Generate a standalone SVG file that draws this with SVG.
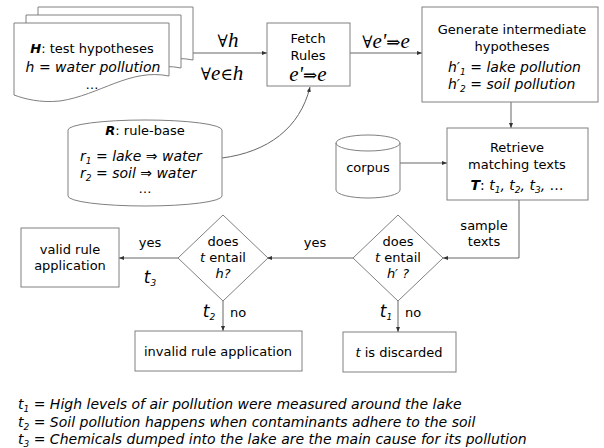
<svg xmlns="http://www.w3.org/2000/svg" xmlns:xlink="http://www.w3.org/1999/xlink" width="604" height="448" viewBox="0 0 604 448">
<style>
.t{font-family:"DejaVu Sans",Verdana,sans-serif;font-size:13px;fill:#000}
.i{font-style:italic}
.L{font-size:14px}
.b{font-weight:bold}
.m{font-family:"Liberation Serif","Times New Roman",serif;font-size:21px;font-style:italic;fill:#000}
.y{font-family:"DejaVu Serif",serif;font-style:normal;font-size:17px}
.s{font-size:9px}
.box{fill:#fff;stroke:#808080;stroke-width:1}
.c{fill:none;stroke:#666;stroke-width:1;marker-end:url(#a)}
</style>
<defs>
<marker id="a" markerWidth="5" markerHeight="4" refX="5" refY="2" orient="auto" markerUnits="userSpaceOnUse">
<path d="M0,0 L5,2 L0,4 z" fill="#333"/>
</marker>
<path id="doc" class="box" d="M0,0 H155 V53 C116,45 86,72 46,78 C26,80 11,76 0,72 Z"/>
</defs>
<g id="connectors">
<path class="c" d="M193,53 H267"/>
<path class="c" d="M350,53 H422"/>
<path class="c" d="M511,102 V128"/>
<path class="c" d="M400,163 H447"/>
<path class="c" d="M519,200 V258 H443"/>
<path class="c" d="M353,258 H267"/>
<path class="c" d="M178,258 H119"/>
<path class="c" d="M398,301 V332"/>
<path class="c" d="M223,301 V331"/>
<path class="c" d="M222,158 C268,152 300,128 310,87"/>
<text class="m" x="228" y="47" text-anchor="middle"><tspan class="y">∀</tspan>h</text>
<text class="m" x="222" y="80" text-anchor="middle"><tspan class="y">∀</tspan>e<tspan class="y">∈</tspan>h</text>
<text class="m" x="386" y="48" text-anchor="middle"><tspan class="y">∀</tspan>e'<tspan class="y">⇒</tspan>e</text>
<text class="t" x="484" y="230" text-anchor="middle">sample</text>
<text class="t" x="484" y="246" text-anchor="middle">texts</text>
<text class="t" x="315" y="247" text-anchor="middle">yes</text>
<text class="t" x="150" y="247" text-anchor="middle">yes</text>
<text class="t i" x="150" y="283" text-anchor="middle" style="font-size:17px">t<tspan class="s" dy="3">3</tspan></text>
<text class="t i" x="209" y="317" text-anchor="middle" style="font-size:17px">t<tspan class="s" dy="3">2</tspan></text>
<text class="t" x="238" y="317" text-anchor="middle">no</text>
<text class="t i" x="386" y="317" text-anchor="middle" style="font-size:17px">t<tspan class="s" dy="3">1</tspan></text>
<text class="t" x="413" y="317" text-anchor="middle">no</text>
</g>
<g id="hypotheses">
<use xlink:href="#doc" x="38" y="7"/>
<use xlink:href="#doc" x="26" y="15"/>
<use xlink:href="#doc" x="14" y="23"/>
<text class="t" x="92" y="53" text-anchor="middle"><tspan class="b i">H</tspan>: test hypotheses</text>
<text class="t i L" x="93" y="72" text-anchor="middle">h = water pollution</text>
<text class="t" x="92" y="89" text-anchor="middle">…</text>
</g>
<g id="fetch">
<rect class="box" x="267" y="23" width="83" height="63"/>
<text class="t" x="308" y="43" text-anchor="middle">Fetch</text>
<text class="t" x="308" y="60" text-anchor="middle">Rules</text>
<text class="m" x="308" y="81" text-anchor="middle">e'<tspan class="y">⇒</tspan>e</text>
</g>
<g id="generate">
<rect class="box" x="422" y="7" width="176" height="95"/>
<text class="t" x="512" y="34" text-anchor="middle">Generate intermediate</text>
<text class="t" x="512" y="51" text-anchor="middle">hypotheses</text>
<text class="t i L" x="448" y="72">h′<tspan class="s" dy="3">1</tspan><tspan dy="-3"> = lake pollution</tspan></text>
<text class="t i L" x="448" y="89">h′<tspan class="s" dy="3">2</tspan><tspan dy="-3"> = soil pollution</tspan></text>
</g>
<g id="rulebase">
<path class="box" d="M68,130 A77,10 0 0 1 222,130 V196 A77,10 0 0 1 68,196 Z"/>
<text class="t" x="145" y="135" text-anchor="middle"><tspan class="b i">R</tspan>: rule-base</text>
<text class="t i L" x="80" y="161">r<tspan class="s" dy="3">1</tspan><tspan dy="-3"> = lake ⇒ water</tspan></text>
<text class="t i L" x="80" y="178">r<tspan class="s" dy="3">2</tspan><tspan dy="-3"> = soil ⇒ water</tspan></text>
<text class="t" x="145" y="193" text-anchor="middle">…</text>
</g>
<g id="corpus">
<path class="box" d="M336,143 A32,8 0 0 1 400,143 V190 A32,8 0 0 1 336,190 Z"/>
<path d="M336,143 A32,8 0 0 0 400,143" fill="none" stroke="#808080"/>
<text class="t" x="368" y="172" text-anchor="middle">corpus</text>
</g>
<g id="retrieve">
<rect class="box" x="447" y="128" width="141" height="72"/>
<text class="t" x="517" y="152" text-anchor="middle">Retrieve</text>
<text class="t" x="517" y="169" text-anchor="middle">matching texts</text>
<text class="t L" x="517" y="190" text-anchor="middle"><tspan class="b i">T</tspan>: <tspan class="i">t<tspan class="s" dy="3">1</tspan><tspan dy="-3">, t</tspan><tspan class="s" dy="3">2</tspan><tspan dy="-3">, t</tspan><tspan class="s" dy="3">3</tspan><tspan dy="-3">, </tspan></tspan>…</text>
</g>
<g id="entail-hprime">
<path class="box" d="M398,215 L443,258 L398,301 L353,258 Z"/>
<text class="t" x="398" y="246" text-anchor="middle">does</text>
<text class="t" x="398" y="262" text-anchor="middle"><tspan class="i">t</tspan> entail</text>
<text class="t i" x="398" y="278" text-anchor="middle">h′ ?</text>
</g>
<g id="entail-h">
<path class="box" d="M223,215 L268,258 L223,301 L178,258 Z"/>
<text class="t" x="223" y="246" text-anchor="middle">does</text>
<text class="t" x="223" y="262" text-anchor="middle"><tspan class="i">t</tspan> entail</text>
<text class="t i" x="223" y="278" text-anchor="middle">h?</text>
</g>
<g id="valid">
<rect class="box" x="21" y="228" width="98" height="59"/>
<text class="t" x="70" y="254" text-anchor="middle">valid rule</text>
<text class="t" x="70" y="270" text-anchor="middle">application</text>
</g>
<g id="invalid">
<rect class="box" x="135" y="331" width="167" height="40"/>
<text class="t" x="218" y="356" text-anchor="middle">invalid rule application</text>
</g>
<g id="discarded">
<rect class="box" x="343" y="332" width="113" height="40"/>
<text class="t" x="399" y="357" text-anchor="middle"><tspan class="i">t</tspan> is discarded</text>
</g>
<g id="legend">
<text class="t i L" x="18" y="409">t<tspan class="s" dy="3">1</tspan><tspan dy="-3"> = High levels of air pollution were measured around the lake</tspan></text>
<text class="t i L" x="18" y="427">t<tspan class="s" dy="3">2</tspan><tspan dy="-3"> = Soil pollution happens when contaminants adhere to the soil</tspan></text>
<text class="t i L" x="18" y="444">t<tspan class="s" dy="3">3</tspan><tspan dy="-3"> = Chemicals dumped into the lake are the main cause for its pollution</tspan></text>
</g>
</svg>
